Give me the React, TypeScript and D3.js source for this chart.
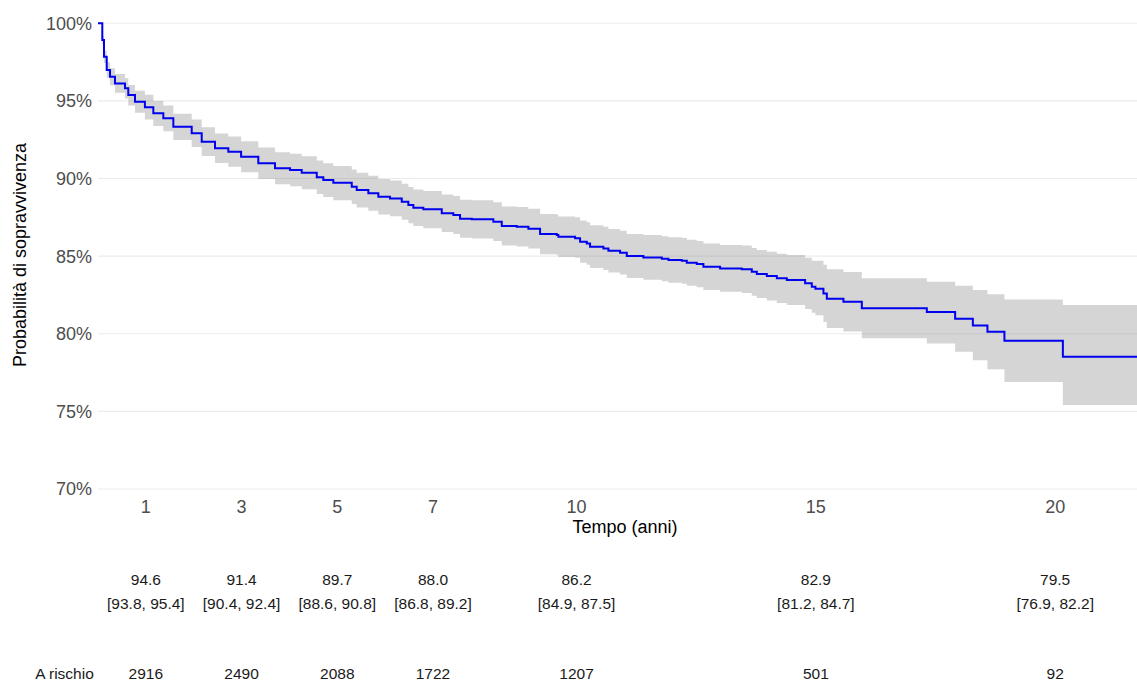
import { useRef, useEffect } from "react";
import * as d3 from "d3";

// Kaplan-Meier estimate (time in years, survival and 95% CI in %)
const stepTimes = [
  0, 0.09, 0.125, 0.182, 0.251, 0.355, 0.564, 0.633, 0.773, 0.98, 1.156, 1.365, 1.574, 1.958,
  2.167, 2.445, 2.723, 2.99, 3.35, 3.699, 4.013, 4.257, 4.571, 4.708, 4.917, 5.302, 5.406,
  5.649, 5.858, 6.102, 6.347, 6.485, 6.589, 6.798, 7.183, 7.425, 7.565, 7.81, 8.261, 8.437,
  8.75, 8.993, 9.237, 9.586, 9.62, 9.969, 10.073, 10.213, 10.282, 10.56, 10.665, 10.909,
  11.049, 11.396, 11.781, 11.919, 12.199, 12.303, 12.512, 12.65, 12.999, 13.452, 13.661,
  13.766, 13.975, 14.184, 14.393, 14.775, 14.915, 14.99, 15.158, 15.229, 15.576, 15.96,
  17.318, 17.91, 18.28, 18.585, 18.94, 20.161,
];
const survival = [
  100, 98.92, 97.85, 96.99, 96.56, 96.13, 95.81, 95.38, 94.95, 94.6, 94.2, 93.88, 93.34, 92.91,
  92.37, 91.95, 91.73, 91.4, 90.98, 90.66, 90.55, 90.37, 90.08, 89.9, 89.73, 89.47, 89.26,
  89.05, 88.83, 88.72, 88.51, 88.29, 88.12, 88.02, 87.76, 87.65, 87.41, 87.37, 87.22, 86.94,
  86.89, 86.77, 86.42, 86.36, 86.25, 86.15, 85.93, 85.82, 85.61, 85.5, 85.35, 85.22,
  85.01, 84.92, 84.83, 84.75, 84.7, 84.57, 84.49, 84.32, 84.21, 84.15, 83.99,
  83.85, 83.72, 83.57, 83.46, 83.25, 83.03, 82.9, 82.6, 82.26, 82.06, 81.64,
  81.4, 80.97, 80.54, 80.13, 79.55, 78.52,
];
const upperCI = [
  100, 99.17, 98.25, 97.49, 97.11, 96.73, 96.46, 96.03, 95.65, 95.4, 95.0, 94.7, 94.18, 93.8,
  93.3, 92.9, 92.7, 92.4, 92.0, 91.7, 91.6, 91.43, 91.16, 90.99, 90.8, 90.58, 90.38,
  90.18, 89.97, 89.87, 89.67, 89.46, 89.3, 89.2, 88.97, 88.87, 88.64, 88.6, 88.47, 88.2,
  88.16, 88.05, 87.71, 87.66, 87.55, 87.5, 87.29, 87.19, 86.99, 86.89, 86.75, 86.63,
  86.43, 86.36, 86.28, 86.21, 86.17, 86.05, 85.98, 85.82, 85.72, 85.68, 85.53,
  85.4, 85.29, 85.16, 85.07, 84.9, 84.7, 84.7, 84.45, 84.15, 83.98, 83.57,
  83.35, 83.09, 82.82, 82.54, 82.2, 81.85,
];
const lowerCI = [
  100, 98.67, 97.45, 96.49, 96.01, 95.53, 95.16, 94.7, 94.23, 93.8, 93.38, 93.04, 92.48, 92.03,
  91.45, 91.0, 90.76, 90.4, 89.97, 89.63, 89.5, 89.31, 89.0, 88.81, 88.6, 88.36, 88.14,
  87.92, 87.69, 87.57, 87.35, 87.12, 86.94, 86.8, 86.55, 86.43, 86.18, 86.13, 85.97, 85.68,
  85.62, 85.49, 85.13, 85.06, 84.95, 84.9, 84.57, 84.45, 84.23, 84.11, 83.95, 83.81,
  83.59, 83.48, 83.38, 83.29, 83.23, 83.09, 83.0, 82.82, 82.7, 82.62, 82.45,
  82.3, 82.15, 81.98, 81.85, 81.6, 81.36, 81.2, 80.75, 80.37, 80.14, 79.71,
  79.38, 78.84, 78.29, 77.71, 76.9, 75.41,
];
const maxTime = 21.71;

const xTicks = [1, 3, 5, 7, 10, 15, 20];
const yTicks = [70, 75, 80, 85, 90, 95, 100];

// summary table
const tableTimes = [1, 3, 5, 7, 10, 15, 20];
const tableEst = ["94.6", "91.4", "89.7", "88.0", "86.2", "82.9", "79.5"];
const tableCI = [
  "[93.8, 95.4]", "[90.4, 92.4]", "[88.6, 90.8]", "[86.8, 89.2]",
  "[84.9, 87.5]", "[81.2, 84.7]", "[76.9, 82.2]",
];
const atRisk = ["2916", "2490", "2088", "1722", "1207", "501", "92"];

const FONT = "'Liberation Sans', Arial, sans-serif";

export default function App() {
  const svgRef = useRef<SVGSVGElement>(null);

  useEffect(() => {
    if (!svgRef.current) return;
    const width = 1137;
    const height = 683;
    const marginLeft = 98;
    const panelTop = 23.3;
    const panelBottom = 489;

    const svg = d3.select(svgRef.current);
    svg.selectAll("*").remove();
    svg.attr("width", width).attr("height", height);

    const x = d3.scaleLinear().domain([0, maxTime]).range([marginLeft, width]);
    const y = d3.scaleLinear().domain([70, 100]).range([panelBottom, panelTop]);

    // gridlines
    svg.selectAll(".grid")
      .data(yTicks)
      .join("line")
      .attr("x1", marginLeft)
      .attr("x2", width)
      .attr("y1", (d) => y(d))
      .attr("y2", (d) => y(d))
      .attr("stroke", "#ebebeb")
      .attr("stroke-width", 1.1);

    const km = stepTimes.map((t, i) => ({ t, s: survival[i], lo: lowerCI[i], hi: upperCI[i] }));
    const last = km[km.length - 1];
    km.push({ ...last, t: maxTime });

    // confidence band
    const area = d3.area<{ t: number; lo: number; hi: number }>()
      .x((d) => x(d.t))
      .y0((d) => y(d.lo))
      .y1((d) => y(d.hi))
      .curve(d3.curveStepAfter);
    svg.append("path")
      .datum(km)
      .attr("d", area)
      .attr("fill", "#7f7f7f")
      .attr("fill-opacity", 0.33);

    // survival curve
    const line = d3.line<{ t: number; s: number }>()
      .x((d) => x(d.t))
      .y((d) => y(d.s))
      .curve(d3.curveStepAfter);
    svg.append("path")
      .datum(km)
      .attr("d", line)
      .attr("fill", "none")
      .attr("stroke", "#0000ee")
      .attr("stroke-width", 2);

    // y tick labels
    svg.selectAll(".ylab")
      .data(yTicks)
      .join("text")
      .attr("x", marginLeft - 6)
      .attr("y", (d) => y(d))
      .attr("dy", "0.36em")
      .attr("text-anchor", "end")
      .attr("fill", "#4d4d4d")
      .attr("font-size", "18px")
      .attr("font-family", FONT)
      .text((d) => `${d}%`);

    // x tick labels
    svg.selectAll(".xlab")
      .data(xTicks)
      .join("text")
      .attr("x", (d) => x(d))
      .attr("y", 512.5)
      .attr("text-anchor", "middle")
      .attr("fill", "#4d4d4d")
      .attr("font-size", "18px")
      .attr("font-family", FONT)
      .text((d) => d);

    // axis titles
    svg.append("text")
      .attr("x", 625)
      .attr("y", 533)
      .attr("text-anchor", "middle")
      .attr("fill", "#000")
      .attr("font-size", "18px")
      .attr("font-family", FONT)
      .text("Tempo (anni)");

    svg.append("text")
      .attr("transform", "translate(20,255) rotate(-90)")
      .attr("dy", "0.36em")
      .attr("text-anchor", "middle")
      .attr("fill", "#000")
      .attr("font-size", "18px")
      .attr("font-family", FONT)
      .text("Probabilità di sopravvivenza");

    // table below the plot
    const rows: Array<{ vals: string[]; yPos: number }> = [
      { vals: tableEst, yPos: 585 },
      { vals: tableCI, yPos: 609 },
      { vals: atRisk, yPos: 679 },
    ];
    rows.forEach((r) => {
      svg.append("g")
        .selectAll("text")
        .data(tableTimes)
        .join("text")
        .attr("x", (d) => x(d))
        .attr("y", r.yPos)
        .attr("text-anchor", "middle")
        .attr("fill", "#1a1a1a")
        .attr("font-size", "15.5px")
        .attr("font-family", FONT)
        .text((_, i) => r.vals[i]);
    });

    svg.append("text")
      .attr("x", 64.5)
      .attr("y", 679)
      .attr("text-anchor", "middle")
      .attr("fill", "#1a1a1a")
      .attr("font-size", "15.5px")
      .attr("font-family", FONT)
      .text("A rischio");
  }, []);

  return (
    <div style={{ position: "absolute", left: 0, top: 0, background: "#fff" }}>
      <svg ref={svgRef} style={{ display: "block" }} />
    </div>
  );
}
